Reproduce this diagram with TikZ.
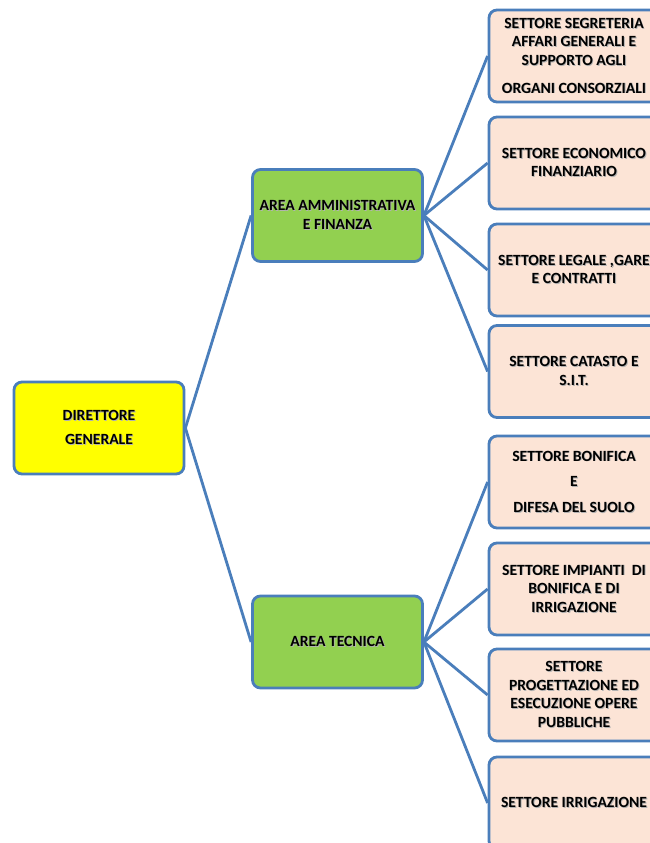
\documentclass[tikz,border=0pt]{standalone}
\usepackage{fontspec}
\setmainfont{Carlito}
\definecolor{frame}{HTML}{4A7EBB}
\definecolor{ylw}{HTML}{FFFF00}
\definecolor{grn}{HTML}{92D050}
\definecolor{peach}{HTML}{FCE4D6}
\newcommand\shl[1]{\rlap{\kern0.9pt\raisebox{-0.9pt}{\color{black!30}#1}}#1}
\tikzset{
  box/.style={draw=frame, line width=2.8pt, rounded corners=8pt, minimum width=170pt, minimum height=92pt, align=center, inner sep=1pt, text=black, font=\bfseries\fontsize{15.6}{18.6}\selectfont},
  topbox/.style={box, fill=ylw},
  areabox/.style={box, fill=grn},
  sectbox/.style={box, fill=peach},
  link/.style={draw=frame, line width=2.8pt}
}
\begin{document}
\begin{tikzpicture}[x=1pt,y=-1pt]
\useasboundingbox (0,0) rectangle (650,843);
\clip (0,0) rectangle (650,843);
\fill[white] (0,0) rectangle (650,843);
\node[topbox] (dir) at (99,428) {\shl{DIRETTORE}\\[5pt]\shl{GENERALE}};
\node[areabox] (amm) at (337.5,215.5) {\shl{AREA AMMINISTRATIVA}\\\shl{E FINANZA}};
\node[areabox] (tec) at (337.5,642) {\shl{AREA TECNICA}};
\node[sectbox] (s1) at (574,56) {\shl{SETTORE SEGRETERIA}\\\shl{AFFARI GENERALI E}\\\shl{SUPPORTO AGLI}\\[9pt]\shl{ORGANI CONSORZIALI}};
\node[sectbox] (s2) at (574,163) {\shl{SETTORE ECONOMICO}\\\shl{FINANZIARIO}};
\node[sectbox] (s3) at (574,270) {\shl{SETTORE LEGALE ,GARE}\\\shl{E CONTRATTI}};
\node[sectbox] (s4) at (574,371.5) {\shl{SETTORE CATASTO E}\\\shl{S.I.T.}};
\node[sectbox] (s5) at (574,482) {\shl{SETTORE BONIFICA}\\[7pt]\shl{E}\\[7pt]\shl{DIFESA DEL SUOLO}};
\node[sectbox] (s6) at (574,589) {\shl{SETTORE IMPIANTI\ \ DI}\\\shl{BONIFICA E DI}\\\shl{IRRIGAZIONE}};
\node[sectbox] (s7) at (574,695) {\shl{SETTORE}\\\shl{PROGETTAZIONE ED}\\\shl{ESECUZIONE OPERE}\\\shl{PUBBLICHE}};
\node[sectbox] (s8) at (574,803) {\shl{SETTORE IRRIGAZIONE}};
\draw[link] (dir.east) -- (amm.west);
\draw[link] (dir.east) -- (tec.west);
\foreach \s in {s1,s2,s3,s4} \draw[link] (amm.east) -- (\s.west);
\foreach \s in {s5,s6,s7,s8} \draw[link] (tec.east) -- (\s.west);
\end{tikzpicture}
\end{document}
